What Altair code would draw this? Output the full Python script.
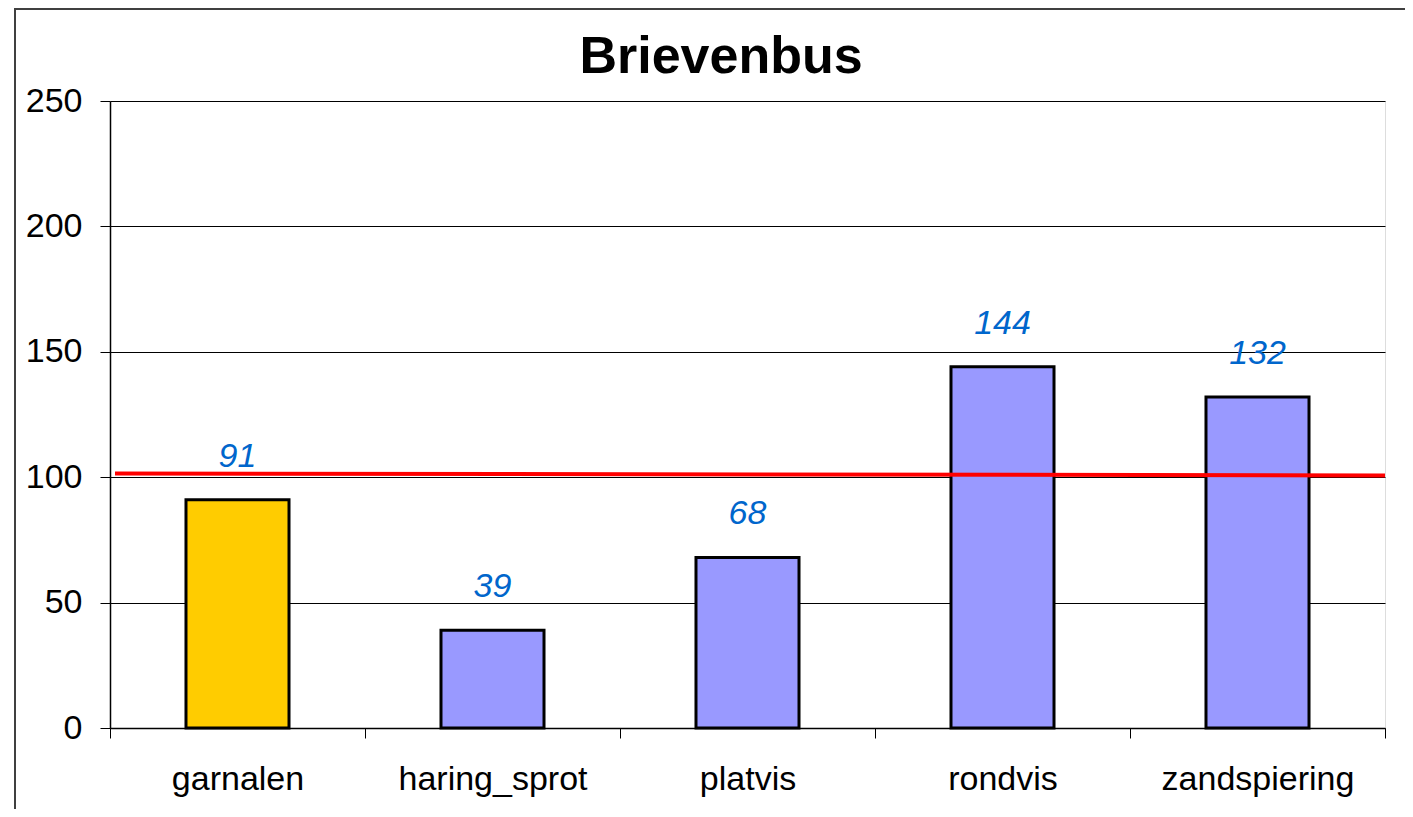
import altair as alt
import pandas as pd

categories = ["garnalen", "haring_sprot", "platvis", "rondvis", "zandspiering"]
values = [91, 39, 68, 144, 132]
line_start = 101.5
line_end = 100.7
y_ticks = [0, 50, 100, 150, 200, 250]
title_text = "Brievenbus"
highlight = "garnalen"

df = pd.DataFrame({"category": categories, "value": values})
line_df = pd.DataFrame({"start": [line_start], "end": [line_end]})
frame_df = pd.DataFrame({"k": [0]})
title_df = pd.DataFrame({"title": [title_text]})

W, H = 1275, 627
FONT = "Liberation Sans"

x_enc = alt.X(
    "category:N",
    sort=categories,
    scale=alt.Scale(paddingInner=0, paddingOuter=0),
    axis=alt.Axis(
        labelAngle=0, tickBand="extent", tickSize=10, labelPadding=24,
        labelFontSize=34, labelFont=FONT, labelColor="black", labelLimit=0,
        domainColor="black", tickColor="black", domainWidth=1.5, tickWidth=1,
        grid=False,
    ),
    title=None,
)
y_enc = alt.Y(
    "value:Q",
    scale=alt.Scale(domain=[0, 250], nice=False),
    axis=alt.Axis(
        values=y_ticks, tickSize=10, labelPadding=18, labelFontSize=34,
        labelFont=FONT, labelColor="black", domainColor="black",
        tickColor="black", domainWidth=1.5, grid=True, gridColor="black",
        gridWidth=1,
    ),
    title=None,
)

frame = alt.Chart(frame_df).mark_rect(
    filled=False, stroke="#404040", strokeWidth=2
).encode(
    x=alt.value(-95), x2=alt.value(1500), y=alt.value(-92), y2=alt.value(1500)
)

title = alt.Chart(title_df).mark_text(
    fontSize=52, fontWeight="bold", font=FONT, color="black",
    align="center", baseline="alphabetic",
).encode(
    x=alt.value(611), y=alt.value(-28), text="title:N"
)

bars = alt.Chart(df).mark_bar(
    stroke="black", strokeWidth=3, width=alt.RelativeBandSize(0.404)
).encode(
    x=x_enc,
    y=y_enc,
    color=alt.condition(
        alt.datum.category == highlight, alt.value("#FFCC00"), alt.value("#9999FF")
    ),
)

labels = alt.Chart(df).mark_text(
    dy=-33, baseline="alphabetic", fontSize=34, fontStyle="italic",
    color="#0066CC", font=FONT,
).encode(
    x=alt.X("category:N", sort=categories),
    y=alt.Y("value:Q"),
    text="value:Q",
)

red_line = alt.Chart(line_df).mark_rule(color="#FF0000", strokeWidth=4).encode(
    x=alt.value(5),
    x2=alt.value(W),
    y=alt.Y("start:Q", title=None),
    y2=alt.Y2("end:Q"),
)

chart = alt.layer(frame, title, bars, red_line, labels).properties(
    width=W,
    height=H,
    autosize=alt.AutoSizeParams(type="none"),
    padding={"left": 102, "top": 93, "right": 20, "bottom": 81},
).configure_view(stroke=None).configure(background="white")

chart.save("out.html", embed_options={"renderer": "svg", "actions": False})
